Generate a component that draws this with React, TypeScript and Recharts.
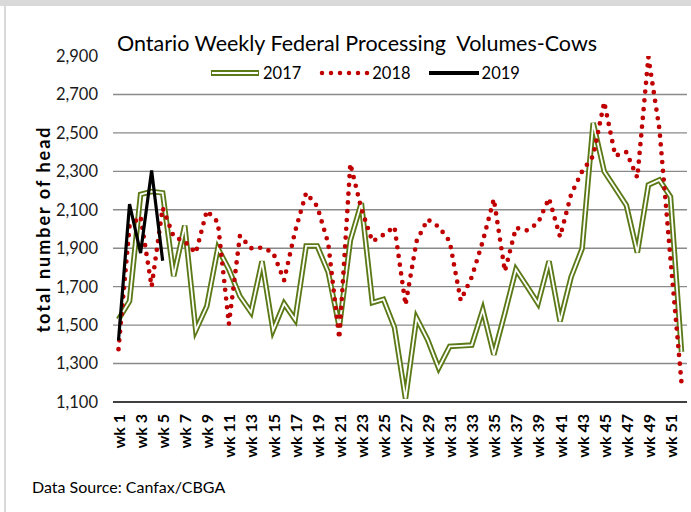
import { CartesianGrid, Line, LineChart, XAxis, YAxis } from "recharts";

const FONT = "Lato, 'Open Sans', sans-serif";
const GREEN = "#5b7a17";
const RED = "#c00000";

const weeks = [
  "wk 1", "wk 2", "wk 3", "wk 4", "wk 5", "wk 6", "wk 7", "wk 8", "wk 9", "wk 10",
  "wk 11", "wk 12", "wk 13", "wk 14", "wk 15", "wk 16", "wk 17", "wk 18", "wk 19", "wk 20",
  "wk 21", "wk 22", "wk 23", "wk 24", "wk 25", "wk 26", "wk 27", "wk 28", "wk 29", "wk 30",
  "wk 31", "wk 32", "wk 33", "wk 34", "wk 35", "wk 36", "wk 37", "wk 38", "wk 39", "wk 40",
  "wk 41", "wk 42", "wk 43", "wk 44", "wk 45", "wk 46", "wk 47", "wk 48", "wk 49", "wk 50",
  "wk 51", "wk 52",
];

const vol2017 = [
  1530, 1625, 2180, 2195, 2188, 1755, 2018, 1473, 1598, 1900,
  1790, 1650, 1567, 1832, 1473, 1612, 1528, 1912, 1912, 1775,
  1490, 1940, 2135, 1617, 1634, 1488, 1118, 1537, 1424, 1277,
  1389, 1392, 1396, 1580, 1346, 1563, 1789, 1702, 1612, 1832,
  1520, 1750, 1898, 2552, 2299, 2212, 2124, 1877, 2229, 2255,
  2168, 1361,
];

const vol2018 = [
  1375, 2015, 2065, 1700, 2110, 1960, 1935, 1875, 2095, 2035,
  1505, 1965, 1900, 1903, 1878, 1733, 1988, 2188, 2118, 1925,
  1430, 2340, 2105, 1935, 1970, 2012, 1605, 1936, 2050, 2012,
  1936, 1628, 1750, 1936, 2156, 1780, 2006, 1993, 2031, 2160,
  1959, 2180, 2300, 2380, 2660, 2381, 2400, 2267, 2895, 2520,
  1845, 1200,
];

const vol2019 = [1420, 2130, 1875, 2305, 1835];

const yTicks = [1100, 1300, 1500, 1700, 1900, 2100, 2300, 2500, 2700, 2900];
const gridValues = [1300, 1500, 1700, 1900, 2100, 2300, 2500, 2700];

const data = weeks.map((wk, i) => ({
  wk,
  y2017: vol2017[i],
  y2018: vol2018[i],
  y2019: i < vol2019.length ? vol2019[i] : null,
}));

function WeekTick({ x, y, payload }: any) {
  return (
    <text
      x={x}
      y={y}
      transform={`rotate(-90 ${x} ${y})`}
      textAnchor="end"
      dominantBaseline="central"
      fontSize={16}
      fontWeight={700}
      fontFamily={FONT}
      fill="#000"
    >
      {payload.value}
    </text>
  );
}

function LegendIcon({ name }: { name: string }) {
  if (name === "2017") {
    return (
      <svg width={52} height={10}>
        <line x1={2} y1={5} x2={50} y2={5} stroke={GREEN} strokeWidth={6} />
        <line x1={3} y1={5} x2={49} y2={5} stroke="#fff" strokeWidth={2} />
      </svg>
    );
  }
  if (name === "2018") {
    return (
      <svg width={52} height={10}>
        <line x1={4} y1={5} x2={50} y2={5} stroke={RED} strokeWidth={4.5}
          strokeDasharray="0 9" strokeLinecap="round" />
      </svg>
    );
  }
  return (
    <svg width={52} height={10}>
      <line x1={1} y1={5} x2={51} y2={5} stroke="#000" strokeWidth={4} />
    </svg>
  );
}

const legendNames = ["2017", "2018", "2019"];

export default function App() {
  return (
    <div
      style={{
        position: "absolute",
        left: 0,
        top: 0,
        width: 691,
        height: 512,
        background: "#fff",
        fontFamily: FONT,
      }}
    >
      <div style={{ position: "absolute", left: 0, top: 0, width: 691, height: 6, background: "#d9d9d9" }} />
      <div style={{ position: "absolute", left: 4, top: 0, width: 2, height: 512, background: "#d9d9d9" }} />
      <div
        style={{
          position: "absolute",
          left: 0,
          width: 714,
          top: 30,
          textAlign: "center",
          fontSize: 21.5,
          color: "#000",
          whiteSpace: "pre",
        }}
      >
        {"Ontario Weekly Federal Processing  Volumes-Cows"}
      </div>
      <div
        style={{
          position: "absolute",
          left: 209,
          top: 63,
          display: "flex",
          alignItems: "center",
          fontSize: 16.5,
          color: "#000",
        }}
      >
        {legendNames.map((n) => (
          <div key={n} style={{ display: "flex", alignItems: "center", marginRight: 17 }}>
            <LegendIcon name={n} />
            <span style={{ marginLeft: 2 }}>{n}</span>
          </div>
        ))}
      </div>
      <LineChart
        width={691}
        height={512}
        data={data}
        margin={{ top: 56, right: 4, bottom: 40, left: 0 }}
      >
        <CartesianGrid
          vertical={false}
          horizontalValues={gridValues}
          stroke="#8a8a8a"
          strokeWidth={1.4}
        />
        <XAxis
          dataKey="wk"
          interval={1}
          height={70}
          padding={{ left: 5.5, right: 5.5 }}
          tickLine={false}
          tickSize={0}
          tickMargin={12}
          axisLine={{ stroke: "#000", strokeWidth: 1.5 }}
          tick={<WeekTick />}
        />
        <YAxis
          width={113}
          domain={[1100, 2900]}
          ticks={yTicks}
          allowDataOverflow
          axisLine={false}
          tickLine={false}
          tickSize={0}
          tickMargin={15}
          tickFormatter={(v: number) => v.toLocaleString("en-US")}
          tick={{ fontSize: 16.5, fill: "#1a1a1a", fontFamily: FONT }}
          label={{
            value: "total number of head",
            angle: -90,
            position: "insideLeft",
            offset: 44,
            style: {
              textAnchor: "middle",
              fontWeight: 700,
              fontSize: 18,
              letterSpacing: 2,
              fill: "#000",
              fontFamily: FONT,
            },
          }}
        />
        <Line
          dataKey="y2017"
          stroke={GREEN}
          strokeWidth={5.5}
          dot={false}
          isAnimationActive={false}
          strokeLinejoin="miter"
        />
        <Line
          dataKey="y2017"
          stroke="#fff"
          strokeWidth={1.8}
          dot={false}
          isAnimationActive={false}
          strokeLinejoin="miter"
        />
        <Line
          dataKey="y2018"
          stroke={RED}
          strokeWidth={4.7}
          strokeDasharray="0 8.8"
          strokeLinecap="round"
          dot={false}
          isAnimationActive={false}
        />
        <Line
          dataKey="y2019"
          stroke="#000"
          strokeWidth={3.2}
          dot={false}
          isAnimationActive={false}
        />
      </LineChart>
      <div style={{ position: "absolute", left: 32, top: 477, fontSize: 16, color: "#000" }}>
        Data Source: Canfax/CBGA
      </div>
    </div>
  );
}
